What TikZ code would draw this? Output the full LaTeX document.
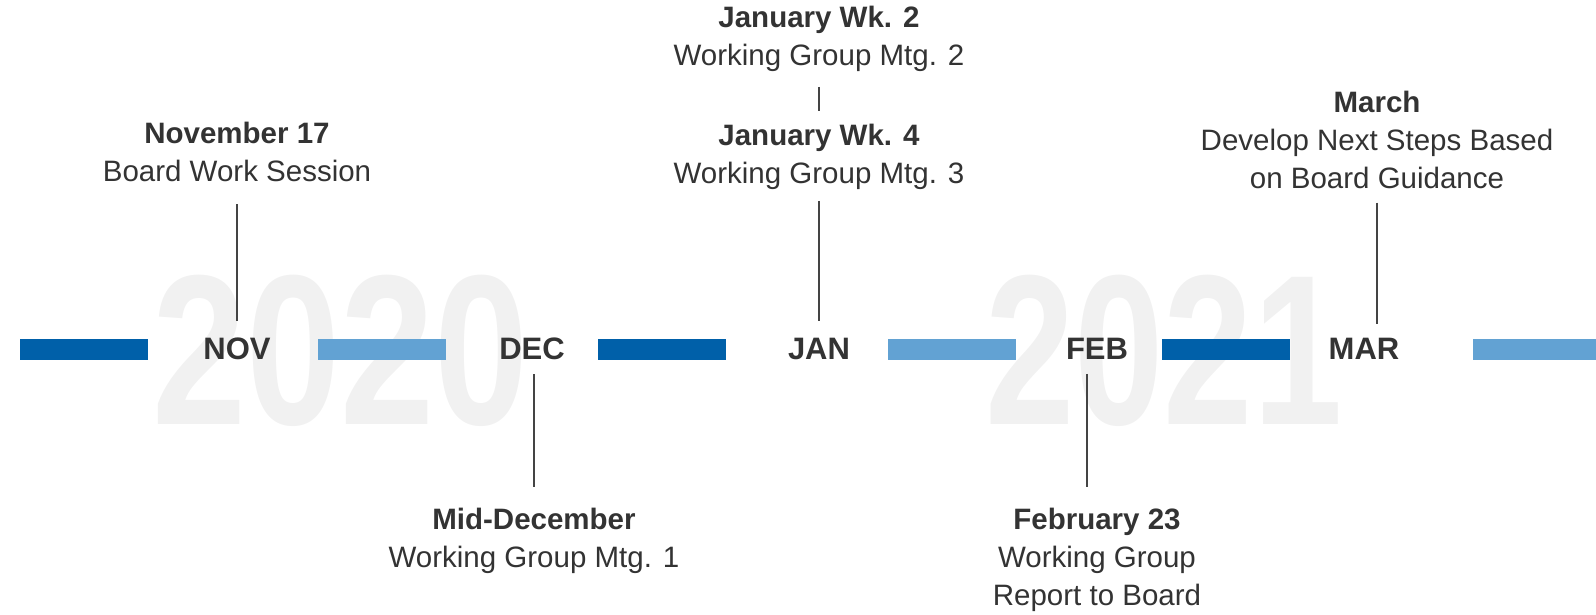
\documentclass[tikz,border=0pt]{standalone}
\usepackage{fontspec}
\setmainfont{Liberation Sans}
\definecolor{darkbar}{HTML}{0060A9}
\definecolor{lightbar}{HTML}{62A2D3}
\definecolor{txt}{HTML}{333333}
\definecolor{linec}{HTML}{444444}
\definecolor{wm}{HTML}{F1F1F1}
\begin{document}
\begin{tikzpicture}[x=1pt,y=-1pt,
  bar/.style={minimum width=128pt, minimum height=21pt, inner sep=0pt, draw=none},
  month/.style={font=\fontsize{31}{31}\selectfont\bfseries, text=txt, inner sep=0pt},
  event/.style={align=center, font=\fontsize{29.5}{38}\selectfont, text=txt, inner sep=0pt},
  year/.style={font=\fontsize{214}{214}\selectfont\bfseries, text=wm, inner sep=0pt},
  link/.style={draw=linec, line width=1.5pt}]
\useasboundingbox (0,0) rectangle (1596,614);
% watermarks
\node[year] (y2020) at (341,351) {\scalebox{0.79}[1]{2020}};
\node[year] (y2021) at (1164,351) {\scalebox{0.75}[1]{2021}};
% bars
\node[bar, fill=darkbar]  (b1) at (84,349) {};
\node[bar, fill=lightbar] (b2) at (382,349) {};
\node[bar, fill=darkbar]  (b3) at (661.5,349) {};
\node[bar, fill=lightbar] (b4) at (952,349) {};
\node[bar, fill=darkbar]  (b5) at (1225.5,349) {};
\node[bar, fill=lightbar] (b6) at (1537,349) {};
% months
\node[month] (nov) at (237,349) {NOV};
\node[month] (dec) at (532,349) {DEC};
\node[month] (jan) at (819,349) {JAN};
\node[month] (feb) at (1097,349) {FEB};
\node[month] (mar) at (1364,349) {MAR};
% events
\node[event] (evnov) at (237,152) {\textbf{November 17}\\Board Work Session};
\node[event] (evjan2) at (819,39) {\textbf{January Wk. 2}\\Working Group Mtg. 2};
\node[event] (evjan4) at (819,157) {\textbf{January Wk. 4}\\Working Group Mtg. 3};
\node[event] (evmar) at (1377,140) {\textbf{March}\\Develop Next Steps Based\\on Board Guidance};
\node[event] (evdec) at (534,541) {\textbf{Mid-December}\\Working Group Mtg. 1};
\node[event] (evfeb) at (1097,560) {\textbf{February 23}\\Working Group\\Report to Board};
% links
\draw[link, shorten <=22pt, shorten >=17pt] (evnov.south -| nov) -- (nov.north);
\draw[link, shorten <=14pt, shorten >=21.5pt] (dec.south -| evdec) -- (evdec.north);
\draw[link, shorten <=11pt, shorten >=17pt] (evjan4.south) -- (jan.north -| evjan4);
\draw[link, shorten <=15pt, shorten >=13pt] (evjan2.south) -- (evjan4.north);
\draw[link, shorten <=14pt, shorten >=21.5pt] (feb.south -| 1087,0) -- (evfeb.north -| 1087,0);
\draw[link, shorten <=13.5pt, shorten >=14pt] (evmar.south) -- (mar.north -| evmar);
\end{tikzpicture}
\end{document}
